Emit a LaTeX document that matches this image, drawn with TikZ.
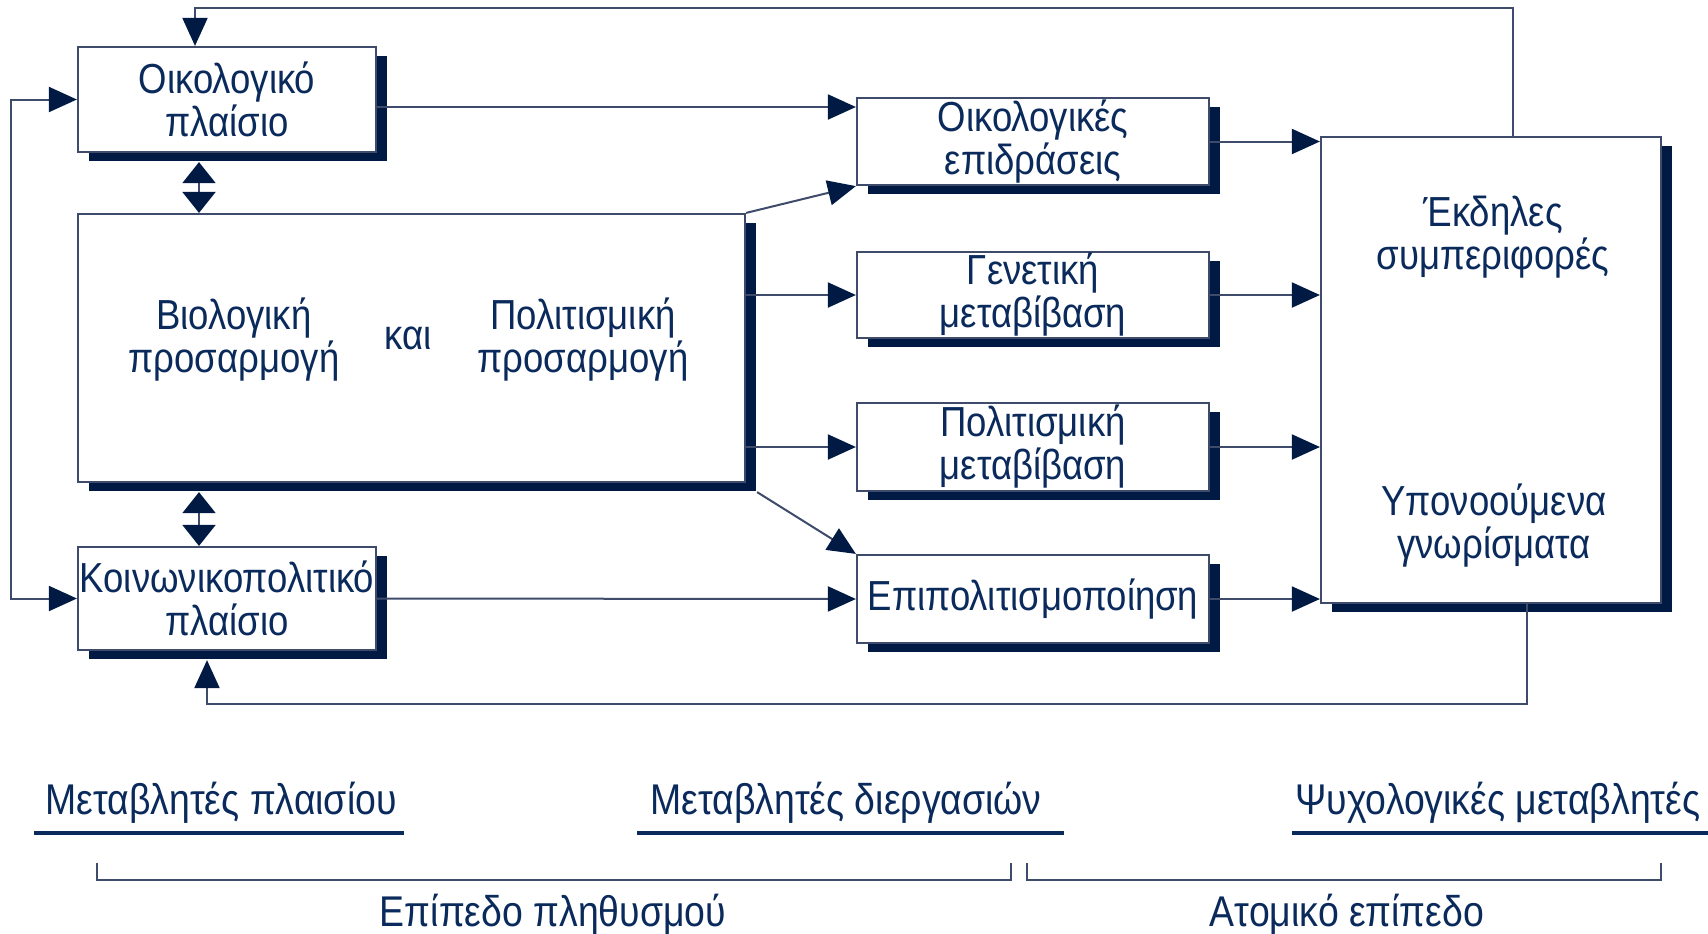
\documentclass[tikz,border=0pt]{standalone}
\usepackage{fontspec}
\setmainfont[FakeStretch=0.87]{Liberation Sans}
\usepackage{xcolor}
\usetikzlibrary{arrows.meta,shadows}
\definecolor{txtc}{HTML}{0A2A5C}
\definecolor{shadc}{HTML}{001A44}
\definecolor{linec}{HTML}{3E4B6A}
\tikzset{
  blok/.style={draw=linec, line width=1.1pt, fill=white, text=txtc, align=center, inner sep=0pt,
    drop shadow={shadow xshift=5.5pt, shadow yshift=-4.5pt, fill=shadc, opacity=1}},
  lbl/.style={text=txtc, align=center, inner sep=0pt},
  htip/.tip={Triangle[length=14pt,width=12.5pt,color=shadc]},
  vtip/.tip={Triangle[length=10.5pt,width=16.5pt,color=shadc]},
  pijl/.style={draw=linec, line width=1pt, -htip},
  vpijl/.style={draw=linec, line width=1pt, vtip-vtip},
  lijn/.style={draw=linec, line width=1pt},
  onder/.style={draw=txtc, line width=2pt},
  onderschrift/.style={lbl, anchor=base, font=\fontsize{21.5}{21.5}\selectfont},
}
\begin{document}
\begin{tikzpicture}[x=0.5pt, y=-0.5pt, font=\fontsize{21}{21.5}\selectfont]
      \useasboundingbox (0,0) rectangle (1708,933);
      % Draw boxes
      \node[blok, minimum width=149pt, minimum height=52.5pt] (oik) at (227,99.5) {Οικολογικό\\πλαίσιο};
      \node[blok, minimum width=333.5pt, minimum height=134pt] (aanp) at (411.5,348) {};
      \node[blok, minimum width=149pt, minimum height=51.5pt] (koin) at (227,598.5) {Κοινωνικοπολιτικό\\πλαίσιο};
      \node[blok, minimum width=176pt, minimum height=43.5pt] (oe) at (1033,141.5) {Οικολογικές\\επιδράσεις};
      \node[blok, minimum width=176pt, minimum height=43pt] (gen) at (1033,295) {Γενετική\\μεταβίβαση};
      \node[blok, minimum width=176pt, minimum height=44pt] (pol) at (1033,447) {Πολιτισμική\\μεταβίβαση};
      \node[blok, minimum width=176pt, minimum height=44pt] (epi) at (1033,599) {Επιπολιτισμοποίηση};
      \node[blok, minimum width=170pt, minimum height=233pt] (ekd) at (1491,370) {};
      
      % Texts inside the big boxes
      \node[lbl] (bio) at (234,340) {Βιολογική\\προσαρμογή};
      \node[lbl] (kai) at (408,338) {και};
      \node[lbl] (polpr) at (583,340) {Πολιτισμική\\προσαρμογή};
      \node[lbl] (ekdt) at (1493,237) {Έκδηλες\\συμπεριφορές};
      \node[lbl] (ypon) at (1494,526) {Υπονοούμενα\\γνωρίσματα};
      
      % Draw arrows
      \coordinate (as) at ([xshift=-14pt]oik.south);
      \coordinate (bs) at ([xshift=-14pt]koin.north);
      \coordinate (aanpS) at ([yshift=-4.5pt]aanp.south);
      \draw[vpijl] ([yshift=-4.5pt]as) -- (as |- aanp.north);
      \draw[vpijl] (bs |- aanpS) -- (bs);
      \draw[pijl] (oik.east |- 0,107) -- (oe.west |- 0,107);
      \draw[pijl] (koin.east) -- (epi.west);
      \draw[pijl] (aanp.north east) -- (oe.south west);
      \draw[pijl] (aanp.east |- gen.west) -- (gen.west);
      \draw[pijl] (aanp.east |- pol.west) -- (pol.west);
      \draw[pijl] ([xshift=5.5pt,yshift=-4.5pt]aanp.south east) -- (epi.north west);
      \draw[pijl] (oe.east) -- (oe.east -| ekd.west);
      \draw[pijl] (gen.east) -- (gen.east -| ekd.west);
      \draw[pijl] (pol.east) -- (pol.east -| ekd.west);
      \draw[pijl] (epi.east) -- (epi.east -| ekd.west);
      
      % Feedback loops
      \coordinate (topR) at (1513,8);
      \coordinate (topL) at (195,8);
      \coordinate (botR) at (1527,704);
      \coordinate (botL) at (207,704);
      \coordinate (koinS) at ([yshift=-4.5pt]koin.south);
      \draw[pijl] (ekd.north -| topR) -- (topR) -- (topL) -- (oik.north -| topL);
      \draw[pijl] (ekd.south -| botR) -- (botR) -- (botL) -- (koinS -| botL);
      \draw[pijl, htip-htip] (oik.west) -- ++(-66,0) |- (koin.west);
      
      % Label levels
      \node[onderschrift] (mpl) at (221,814) {Μεταβλητές πλαισίου};
      \node[onderschrift] (mdi) at (846,814) {Μεταβλητές διεργασιών};
      \node[onderschrift] (psy) at (1498,814) {Ψυχολογικές μεταβλητές};
      \draw[onder] (34,833) -- (404,833);
      \draw[onder] (637,833) -- (1064,833);
      \draw[onder] (1292,833) -- (1708,833);
      \draw[lijn] (97,863) -- (97,880) -- (1011,880) -- (1011,863);
      \draw[lijn] (1027,863) -- (1027,880) -- (1661,880) -- (1661,863);
      \node[onderschrift] (pleth) at (553,926) {Επίπεδο πληθυσμού};
      \node[onderschrift] (atom) at (1347,926) {Ατομικό επίπεδο};
  \end{tikzpicture}
\end{document}
